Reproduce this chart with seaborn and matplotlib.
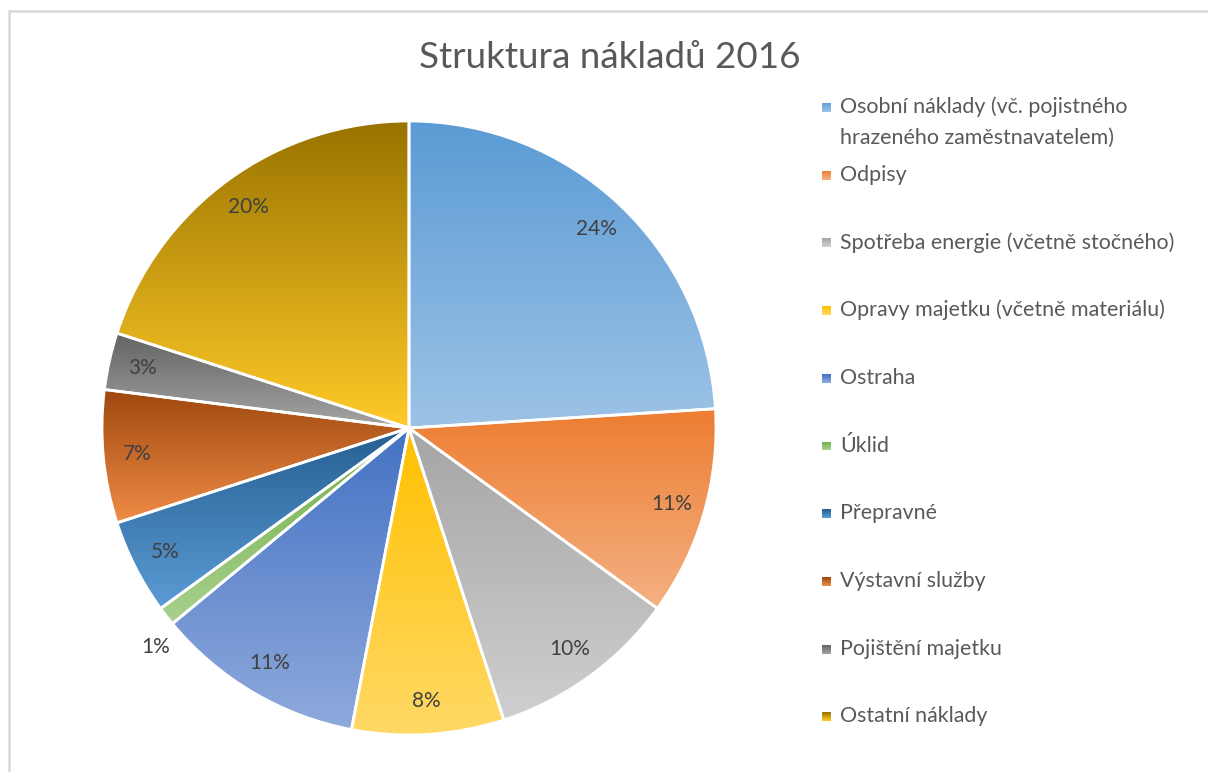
import numpy as np
import matplotlib
matplotlib.use("Agg")
import matplotlib.pyplot as plt
import seaborn as sns
from matplotlib.colors import to_rgb
from matplotlib.patches import Rectangle

sns.set_theme(style="white")
plt.rcParams['font.family'] = ['Lato', 'DejaVu Sans']

# ---- data ----
categories = [
    "Osobní náklady (vč. pojistného\nhrazeného zaměstnavatelem)",
    "Odpisy",
    "Spotřeba energie (včetně stočného)",
    "Opravy majetku (včetně materiálu)",
    "Ostraha",
    "Úklid",
    "Přepravné",
    "Výstavní služby",
    "Pojištění majetku",
    "Ostatní náklady",
]
values = [24, 11, 10, 8, 11, 1, 5, 7, 3, 20]
labels = ["24%", "11%", "10%", "8%", "11%", "1%", "5%", "7%", "3%", "20%"]
top_colors = ["#5B9BD5", "#ED7D31", "#A5A5A5", "#FFC000", "#4472C4",
              "#70AD47", "#255E91", "#9E480E", "#636363", "#997300"]
bottom_colors = ["#9DC3E6", "#F4B183", "#CFCFCF", "#FFD966", "#8FAADC",
                 "#A9D18E", "#5B9BD5", "#F08C46", "#A5A5A5", "#FFCA28"]

W, H = 1208, 772
fig = plt.figure(figsize=(W / 100, H / 100), dpi=100)
fig.patch.set_facecolor("white")

# chart border
fig.add_artist(Rectangle((9 / W, -0.05), 1.2, (H - 11) / H + 0.05,
                         transform=fig.transFigure, fill=False,
                         edgecolor="#D9D9D9", linewidth=1.8))

cx, cy, R = 409, 428, 307
ax = fig.add_axes([(cx - R) / W, (H - cy - R) / H, 2 * R / W, 2 * R / H])
ax.set_xlim(-1, 1)
ax.set_ylim(-1, 1)
ax.set_aspect("equal")
ax.axis("off")

wedges, _ = ax.pie(values, startangle=90, counterclock=False, radius=1,
                   wedgeprops=dict(edgecolor="white", linewidth=2))

def grad(top, bottom, n=256):
    t = np.linspace(0, 1, n)[:, None]
    a = np.array(to_rgb(top))[None, :]
    b = np.array(to_rgb(bottom))[None, :]
    return (a * (1 - t) + b * t)[:, None, :]

for w, ct, cb in zip(wedges, top_colors, bottom_colors):
    w.set_facecolor("none")
    ext = w.get_path().get_extents()
    im = ax.imshow(grad(ct, cb), extent=[ext.x0, ext.x1, ext.y0, ext.y1],
                   origin="upper", aspect="auto", zorder=0.5,
                   interpolation="bilinear")
    im.set_clip_path(w)
    w.set_zorder(1)
ax.set_xlim(-1, 1)
ax.set_ylim(-1, 1)

# data labels
total = sum(values)
cum = 0
for v, lab in zip(values, labels):
    mid = (cum + v / 2) / total * 2 * np.pi
    cum += v
    d = 0.89 if v >= 2 else 1.09
    x, y = d * np.sin(mid), d * np.cos(mid)
    if v < 2:
        x += 0.035
        y -= 0.045
    ax.text(x, y, lab, ha="center", va="center", fontsize=15,
            color="#404040", zorder=3)

# title
fig.text(610 / W, 1 - 58 / H, "Struktura nákladů 2016", ha="center",
         va="center", fontsize=26.5, color="#595959")

# legend
y0, dy = 107, 67.7
for i, (name, ct, cb) in enumerate(zip(categories, top_colors, bottom_colors)):
    y = y0 + i * dy
    lax = fig.add_axes([822 / W, 1 - (y + 5) / H, 9 / W, 9 / H])
    lax.imshow(grad(ct, cb, 16), aspect="auto", interpolation="bilinear")
    lax.axis("off")
    if "\n" in name:
        fig.text(840 / W, 1 - (y + 15) / H, name, ha="left", va="center",
                 fontsize=15.4, color="#595959", linespacing=1.68)
    else:
        fig.text(840 / W, 1 - y / H, name, ha="left", va="center",
                 fontsize=15.4, color="#595959")

fig.savefig("out.png", dpi=100, facecolor="white")
